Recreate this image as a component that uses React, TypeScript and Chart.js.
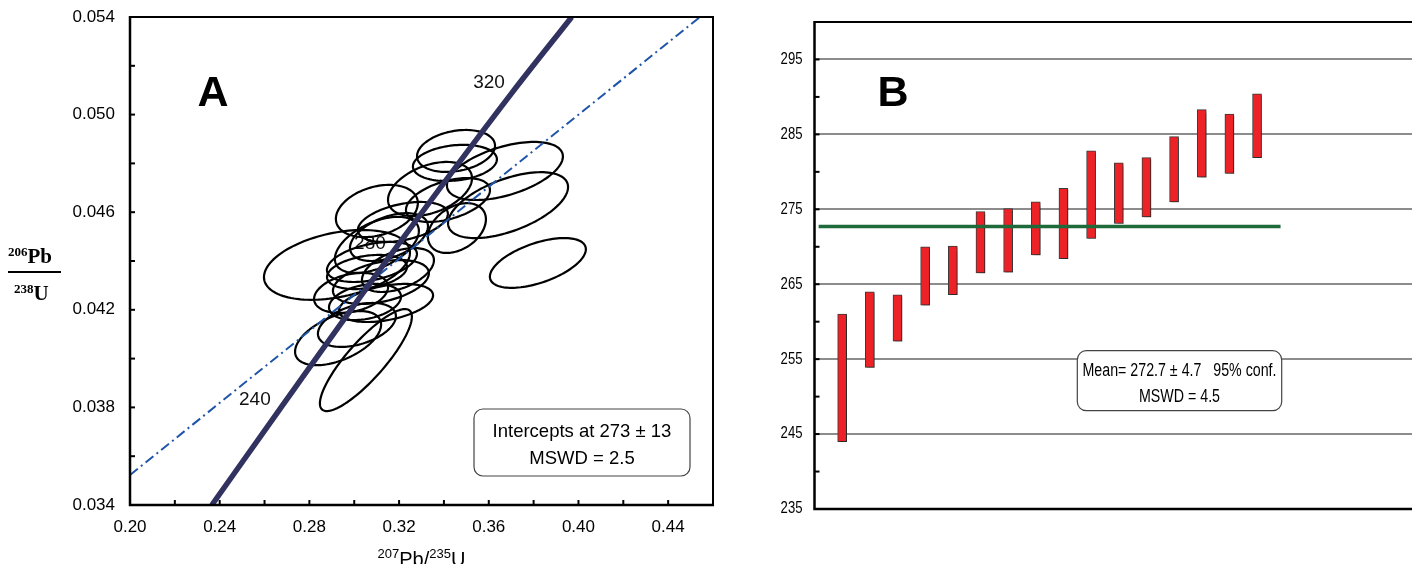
import React, { useEffect, useRef } from "react";
import { Chart, registerables } from "chart.js";
Chart.register(...registerables);

// ---------- Panel A: concordia diagram ----------
const xTicksA = [0.2, 0.24, 0.28, 0.32, 0.36, 0.4, 0.44];
const xMinorA = [0.2, 0.22, 0.24, 0.26, 0.28, 0.3, 0.32, 0.34, 0.36, 0.38, 0.4, 0.42, 0.44, 0.46];
const yTicksA = [0.034, 0.038, 0.042, 0.046, 0.05, 0.054];
const yMinorA = [0.034, 0.036, 0.038, 0.04, 0.042, 0.044, 0.046, 0.048, 0.05, 0.052, 0.054];

const concordiaX = [0.2365, 0.2666, 0.3175, 0.3704, 0.397];
const concordiaY = [0.034, 0.0379, 0.0444, 0.0509, 0.054];
const ageLabels = ["240", "280", "320"];
const ageLabelX = [0.2557, 0.307, 0.3601];
const ageLabelY = [0.0383, 0.0447, 0.0513];

const discordiaX = [0.2, 0.4542];
const discordiaY = [0.03523, 0.054];

const ellCenterX = [0.3454, 0.3449, 0.3672, 0.3686, 0.3338, 0.3418, 0.3101, 0.3458, 0.3155, 0.2923, 0.3819, 0.3101, 0.3057, 0.3119, 0.2986, 0.3142, 0.3012, 0.2928, 0.3052, 0.3217, 0.3079, 0.3195, 0.3048];
const ellCenterY = [0.04851, 0.04802, 0.04769, 0.04629, 0.04695, 0.0465, 0.04605, 0.04535, 0.04498, 0.04384, 0.04392, 0.04466, 0.04355, 0.04314, 0.04269, 0.04228, 0.04138, 0.04084, 0.03994, 0.0456, 0.04396, 0.04363, 0.04232];
const ellHalfX = [0.01739, 0.01873, 0.02586, 0.02676, 0.01873, 0.01873, 0.01828, 0.01293, 0.01739, 0.03255, 0.0214, 0.01873, 0.01784, 0.0214, 0.0165, 0.02096, 0.01739, 0.01918, 0.02051, 0.02007, 0.02007, 0.01605, 0.01605];
const ellHalfY = [0.00086, 0.00074, 0.00119, 0.00135, 0.00111, 0.0009, 0.00107, 0.00102, 0.00098, 0.00143, 0.00102, 0.00115, 0.0007, 0.0009, 0.00082, 0.00078, 0.0009, 0.00111, 0.00209, 0.00082, 0.00082, 0.0009, 0.00074];
const ellRho = [0.25, 0.2, 0.5, 0.55, 0.4, 0.45, 0.3, 0.35, 0.45, 0.35, 0.55, 0.5, 0.3, 0.4, 0.3, 0.4, 0.4, 0.5, 0.85, 0.4, 0.4, 0.45, 0.3];

const interceptText = ["Intercepts at 273 \u00b1 13", "MSWD = 2.5"];

// ---------- Panel B: weighted mean ----------
const barIndex = [1, 2, 3, 4, 5, 6, 7, 8, 9, 10, 11, 12, 13, 14, 15, 16];
const barLow = [244.0, 253.9, 257.4, 262.2, 263.6, 266.5, 266.6, 268.9, 268.4, 271.1, 273.1, 274.0, 276.0, 279.3, 279.8, 281.9];
const barHigh = [261.0, 264.0, 263.6, 270.0, 270.1, 274.7, 275.1, 276.0, 277.8, 282.8, 281.2, 281.9, 284.7, 288.3, 287.7, 290.4];
const meanValue = 272.7;
const meanLineX = [0.15, 16.85];
const yTicksB = [235, 245, 255, 265, 275, 285, 295];
const yMinorB = [240, 250, 260, 270, 280, 290];
const meanText = ["Mean= 272.7 \u00b1 4.7   95% conf.", "MSWD = 4.5"];

const SANS = "'Liberation Sans', Arial, sans-serif";
const SERIF = "'Liberation Serif', 'Times New Roman', serif";

function roundBox(ctx: CanvasRenderingContext2D, x: number, y: number, w: number, h: number, r: number) {
  ctx.save();
  ctx.beginPath();
  (ctx as any).roundRect(x, y, w, h, r);
  ctx.fillStyle = "#fff";
  ctx.fill();
  ctx.strokeStyle = "#444";
  ctx.lineWidth = 1.2;
  ctx.stroke();
  ctx.restore();
}

function narrowText(ctx: CanvasRenderingContext2D, text: string, x: number, y: number, sx: number) {
  ctx.save();
  ctx.translate(x, y);
  ctx.scale(sx, 1);
  ctx.fillText(text, 0, 0);
  ctx.restore();
}

function makeConfigA(): any {
  const plugin = {
    id: "panelA",
    beforeDatasetsDraw(chart: any) {
      const ctx = chart.ctx as CanvasRenderingContext2D;
      const xs = chart.scales.x;
      const ys = chart.scales.y;
      ctx.save();
      ctx.font = `19px ${SANS}`;
      ctx.fillStyle = "#111";
      ctx.textAlign = "center";
      ctx.textBaseline = "middle";
      ageLabels.forEach((t, i) => {
        ctx.fillText(t, xs.getPixelForValue(ageLabelX[i]), ys.getPixelForValue(ageLabelY[i]));
      });
      ctx.strokeStyle = "#000";
      ctx.lineWidth = 2.2;
      for (let k = 0; k < ellCenterX.length; k++) {
        const s = Math.sqrt(1 - ellRho[k] * ellRho[k]);
        ctx.beginPath();
        for (let i = 0; i <= 120; i++) {
          const t = (i / 120) * Math.PI * 2;
          const px = xs.getPixelForValue(ellCenterX[k] + ellHalfX[k] * Math.cos(t));
          const py = ys.getPixelForValue(ellCenterY[k] + ellHalfY[k] * (ellRho[k] * Math.cos(t) + s * Math.sin(t)));
          if (i === 0) ctx.moveTo(px, py);
          else ctx.lineTo(px, py);
        }
        ctx.closePath();
        ctx.stroke();
      }
      ctx.restore();
    },
    afterDraw(chart: any) {
      const ctx = chart.ctx as CanvasRenderingContext2D;
      const a = chart.chartArea;
      const xs = chart.scales.x;
      const ys = chart.scales.y;
      ctx.save();
      // frame
      ctx.strokeStyle = "#000";
      ctx.lineWidth = 2;
      ctx.beginPath();
      ctx.moveTo(a.left, a.top);
      ctx.lineTo(a.right, a.top);
      ctx.lineTo(a.right, a.bottom);
      ctx.stroke();
      ctx.lineWidth = 2.5;
      ctx.beginPath();
      ctx.moveTo(a.left, a.top - 1);
      ctx.lineTo(a.left, a.bottom);
      ctx.lineTo(a.right + 1, a.bottom);
      ctx.stroke();
      // inner ticks
      ctx.lineWidth = 2;
      yMinorA.forEach((v) => {
        const y = ys.getPixelForValue(v);
        ctx.beginPath();
        ctx.moveTo(a.left, y);
        ctx.lineTo(a.left + 5, y);
        ctx.stroke();
      });
      xMinorA.forEach((v) => {
        const x = xs.getPixelForValue(v);
        ctx.beginPath();
        ctx.moveTo(x, a.bottom);
        ctx.lineTo(x, a.bottom - 5);
        ctx.stroke();
      });
      // panel letter
      ctx.fillStyle = "#000";
      ctx.font = `bold 43px ${SANS}`;
      ctx.textAlign = "center";
      ctx.textBaseline = "alphabetic";
      ctx.fillText("A", 213, 106);
      // intercept box
      roundBox(ctx, 474, 409, 216, 67, 9);
      ctx.fillStyle = "#000";
      ctx.font = `18.5px ${SANS}`;
      ctx.textBaseline = "middle";
      ctx.fillText(interceptText[0], 582, 432);
      ctx.fillText(interceptText[1], 582, 459);
      // x title: 207Pb/235U
      ctx.textAlign = "left";
      ctx.textBaseline = "alphabetic";
      const parts: [string, boolean][] = [["207", true], ["Pb/", false], ["235", true], ["U", false]];
      let total = 0;
      parts.forEach(([t, sup]) => {
        ctx.font = sup ? `13px ${SANS}` : `20px ${SANS}`;
        total += ctx.measureText(t).width;
      });
      let x = (a.left + a.right) / 2 - total / 2;
      parts.forEach(([t, sup]) => {
        ctx.font = sup ? `13px ${SANS}` : `20px ${SANS}`;
        ctx.fillText(t, x, sup ? 558 : 566);
        x += ctx.measureText(t).width;
      });
      // y title: 206Pb over 238U
      ctx.font = `bold 13px ${SERIF}`;
      ctx.fillText("206", 8, 256);
      let w = ctx.measureText("206").width;
      ctx.font = `bold 21px ${SERIF}`;
      ctx.fillText("Pb", 8 + w, 263);
      ctx.lineWidth = 2;
      ctx.beginPath();
      ctx.moveTo(8, 272);
      ctx.lineTo(61, 272);
      ctx.stroke();
      ctx.font = `bold 13px ${SERIF}`;
      ctx.fillText("238", 14, 293);
      w = ctx.measureText("238").width;
      ctx.font = `bold 21px ${SERIF}`;
      ctx.fillText("U", 14 + w, 300);
      ctx.restore();
    },
  };

  return {
    type: "scatter",
    data: {
      datasets: [
        {
          data: concordiaX.map((x, i) => ({ x, y: concordiaY[i] })),
          showLine: true,
          borderColor: "#323260",
          borderWidth: 5.5,
          pointRadius: 0,
          cubicInterpolationMode: "monotone",
          fill: false,
        },
        {
          data: discordiaX.map((x, i) => ({ x, y: discordiaY[i] })),
          showLine: true,
          borderColor: "#1f55a8",
          borderWidth: 2,
          borderDash: [10, 4, 2, 4],
          pointRadius: 0,
          fill: false,
        },
      ],
    },
    options: {
      responsive: false,
      animation: false,
      devicePixelRatio: 1,
      layout: { padding: { top: 17, right: 27, left: 0, bottom: 0 } },
      plugins: { legend: { display: false }, tooltip: { enabled: false } },
      scales: {
        x: {
          type: "linear",
          min: 0.2,
          max: 0.46,
          afterFit: (s: any) => {
            s.height = 59;
            s.paddingLeft = 0;
            s.paddingRight = 0;
          },
          afterBuildTicks: (s: any) => {
            s.ticks = xTicksA.map((v) => ({ value: v }));
          },
          grid: { display: false, drawTicks: false },
          border: { display: false },
          ticks: {
            padding: 12,
            color: "#000",
            font: { family: SANS, size: 17 },
            callback: (v: any) => Number(v).toFixed(2),
            maxRotation: 0,
          },
        },
        y: {
          type: "linear",
          min: 0.034,
          max: 0.054,
          afterFit: (s: any) => {
            s.width = 130;
            s.paddingTop = 0;
            s.paddingBottom = 0;
          },
          afterBuildTicks: (s: any) => {
            s.ticks = yTicksA.map((v) => ({ value: v }));
          },
          grid: { display: false, drawTicks: false },
          border: { display: false },
          ticks: {
            padding: 15,
            color: "#000",
            font: { family: SANS, size: 17 },
            callback: (v: any) => Number(v).toFixed(3),
          },
        },
      },
    },
    plugins: [plugin],
  };
}

function makeConfigB(): any {
  const plugin = {
    id: "panelB",
    beforeDatasetDraw(chart: any, args: any) {
      if (args.index === 0) {
        const ctx = chart.ctx as CanvasRenderingContext2D;
        ctx.save();
        ctx.shadowColor = "rgba(0,0,0,0.3)";
        ctx.shadowOffsetX = 1.5;
        ctx.shadowOffsetY = 1.5;
        ctx.shadowBlur = 1;
      }
    },
    afterDatasetDraw(chart: any, args: any) {
      if (args.index === 0) chart.ctx.restore();
    },
    afterDraw(chart: any) {
      const ctx = chart.ctx as CanvasRenderingContext2D;
      const a = chart.chartArea;
      const ys = chart.scales.y;
      ctx.save();
      ctx.strokeStyle = "#000";
      ctx.lineWidth = 2;
      ctx.beginPath();
      ctx.moveTo(a.left, a.top);
      ctx.lineTo(a.right + 2, a.top);
      ctx.stroke();
      ctx.lineWidth = 2.5;
      ctx.beginPath();
      ctx.moveTo(a.left, a.top - 1);
      ctx.lineTo(a.left, a.bottom);
      ctx.lineTo(a.right + 2, a.bottom);
      ctx.stroke();
      ctx.lineWidth = 2;
      [...yMinorB, ...yTicksB].forEach((v) => {
        const y = ys.getPixelForValue(v);
        ctx.beginPath();
        ctx.moveTo(a.left, y);
        ctx.lineTo(a.left + 5, y);
        ctx.stroke();
      });
      // tick labels (condensed)
      ctx.fillStyle = "#000";
      ctx.font = `16px ${SANS}`;
      ctx.textAlign = "right";
      ctx.textBaseline = "middle";
      yTicksB.forEach((v) => {
        narrowText(ctx, String(v), a.left - 12, ys.getPixelForValue(v), 0.82);
      });
      ctx.font = `bold 43px ${SANS}`;
      ctx.textAlign = "center";
      ctx.textBaseline = "alphabetic";
      ctx.fillText("B", 893 - 740, 106);
      const bx = 1077.3 - 740;
      roundBox(ctx, bx, 350.7, 204.4, 60, 9);
      ctx.fillStyle = "#000";
      ctx.font = `18px ${SANS}`;
      ctx.textBaseline = "middle";
      narrowText(ctx, meanText[0], bx + 102.2, 371, 0.79);
      narrowText(ctx, meanText[1], bx + 102.2, 397, 0.79);
      ctx.restore();
    },
  };

  return {
    type: "bar",
    data: {
      datasets: [
        {
          type: "bar",
          data: barIndex.map((x, i) => ({ x, y: [barLow[i], barHigh[i]] })),
          backgroundColor: "#ec2227",
          borderColor: "#3a3a3a",
          borderWidth: 1,
          borderSkipped: false,
          barThickness: 9,
          order: 1,
        },
        {
          type: "line",
          data: meanLineX.map((x) => ({ x, y: meanValue })),
          borderColor: "#1f6a3a",
          borderWidth: 3.5,
          pointRadius: 0,
          fill: false,
          order: 0,
        },
      ],
    },
    options: {
      responsive: false,
      animation: false,
      devicePixelRatio: 1,
      layout: { padding: { top: 22, right: 0, left: 0, bottom: 55 } },
      plugins: { legend: { display: false }, tooltip: { enabled: false } },
      scales: {
        x: {
          type: "linear",
          min: 0,
          max: 22,
          offset: false,
          display: false,
        },
        y: {
          type: "linear",
          min: 235,
          max: 300,
          afterFit: (s: any) => {
            s.width = 74.5;
          },
          afterBuildTicks: (s: any) => {
            s.ticks = yTicksB.map((v) => ({ value: v }));
          },
          grid: { color: "#8c8c8c", lineWidth: 2, drawTicks: false },
          border: { display: false },
          ticks: { display: false },
        },
      },
    },
    plugins: [plugin],
  };
}

export default function App() {
  const refA = useRef<HTMLCanvasElement>(null);
  const refB = useRef<HTMLCanvasElement>(null);
  useEffect(() => {
    const a = new Chart(refA.current as HTMLCanvasElement, makeConfigA());
    const b = new Chart(refB.current as HTMLCanvasElement, makeConfigB());
    return () => {
      a.destroy();
      b.destroy();
    };
  }, []);
  return (
    <div style={{ position: "fixed", left: 0, top: 0, width: 1412, height: 564, overflow: "hidden", background: "#fff" }}>
      <canvas ref={refA} width={740} height={564} style={{ position: "absolute", left: 0, top: 0, width: 740, height: 564 }} />
      <canvas ref={refB} width={683} height={564} style={{ position: "absolute", left: 740, top: 0, width: 683, height: 564 }} />
    </div>
  );
}
